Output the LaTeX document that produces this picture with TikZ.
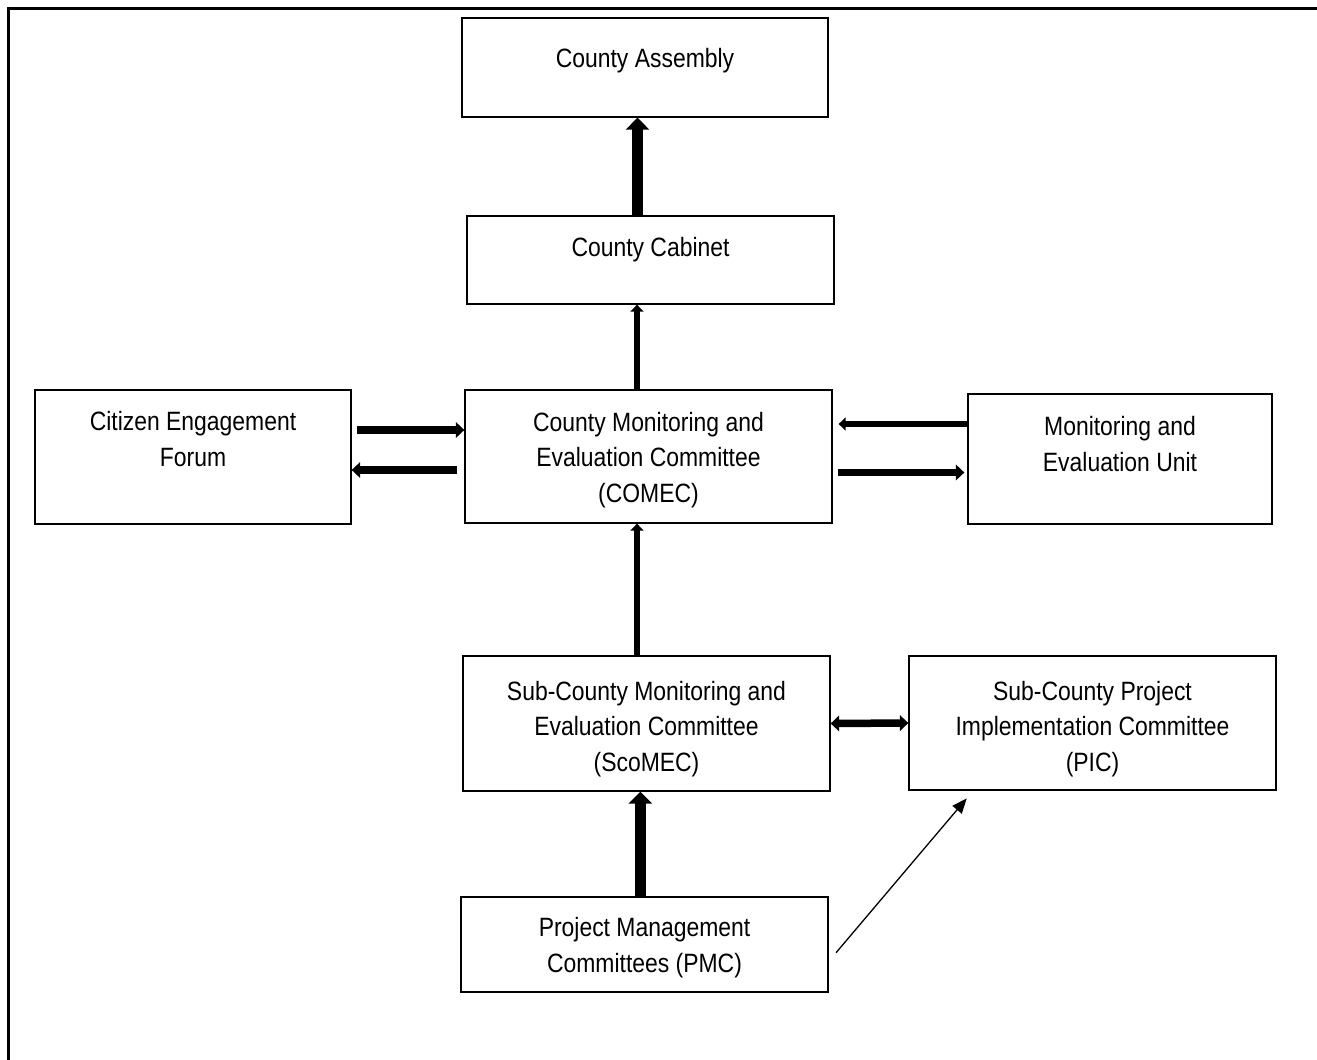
\documentclass[tikz,border=0pt]{standalone}
\usepackage{fontspec}
\setmainfont{Liberation Sans}[FakeStretch=0.865]
\usetikzlibrary{arrows.meta}

\tikzset{
    box/.style={rectangle, draw=black, line width=1.3pt, inner sep=0pt, align=center,
        font=\fontsize{26.5}{35.5}\selectfont},
    tb/.style 2 args={text height=#1pt, text depth=#2pt},
    arrbig/.style={line width=11.5pt, -{Triangle[length=12pt,width=23pt]}},
    arrmid/.style={line width=7.5pt, -{Triangle[length=8.5pt,width=15.5pt]}},
    arrsmall/.style={line width=6.5pt, -{Triangle[length=7pt,width=13pt]}},
    arrslim/.style={line width=1.3pt, -{Triangle[length=15pt,width=12pt]}}
}

\begin{document}
\begin{tikzpicture}[x=1pt, y=-1pt]
    \useasboundingbox (0,0) rectangle (1317,1060);
    \draw[line width=3.3pt] (8.3,1060) -- (8.3,8.3) -- (1317,8.3);

    \node[box, minimum width=366pt, minimum height=99pt, tb={0}{1}] (asm) at (645,67.5) {County Assembly};
    \node[box, minimum width=367pt, minimum height=88pt, tb={0}{8}] (cab) at (650.5,260) {County Cabinet};
    \node[box, minimum width=316pt, minimum height=134pt, tb={18}{0}] (cef) at (193,457) {Citizen Engagement\\Forum};
    \node[box, minimum width=367pt, minimum height=133pt, tb={91}{0}] (comec) at (648.5,456.5) {County Monitoring and\\Evaluation Committee\\(COMEC)};
    \node[box, minimum width=304pt, minimum height=130pt, tb={24}{0}] (meu) at (1120,459) {Monitoring and\\Evaluation Unit};
    \node[box, minimum width=367pt, minimum height=135pt, tb={95}{0}] (sco) at (646.5,723.5) {Sub-County Monitoring and\\Evaluation Committee\\(ScoMEC)};
    \node[box, minimum width=367pt, minimum height=134pt, tb={96}{0}] (pic) at (1092.5,723) {Sub-County Project\\Implementation Committee\\(PIC)};
    \node[box, minimum width=367pt, minimum height=95pt, tb={55}{0}] (pmc) at (644.5,944.5) {Project Management\\Committees (PMC)};

    % upward reporting line
    \draw[arrbig] ([xshift=-13pt]cab.north) -- ([xshift=-13pt]cab.north |- asm.south);
    \draw[arrsmall] ([xshift=-11.5pt]comec.north) -- ([xshift=-11.5pt]comec.north |- cab.south);
    \draw[arrsmall] ([xshift=-9.5pt]sco.north) -- ([xshift=-9.5pt]sco.north |- comec.south);
    \draw[arrbig] ([xshift=-4.2pt]pmc.north) -- ([xshift=-4.2pt]pmc.north |- sco.south);

    % side links
    \draw[arrmid, shorten <=5pt] ([yshift=27pt]cef.east) -- ([yshift=27pt]cef.east -| comec.west);
    \draw[arrmid, shorten <=7pt] ([yshift=-13pt]cef.east -| comec.west) -- ([yshift=-13pt]cef.east);
    \draw[arrsmall, shorten >=6pt] ([yshift=35pt]meu.west) -- ([yshift=35pt]meu.west -| comec.east);
    \draw[arrmid, shorten <=5.5pt, shorten >=3pt] ([yshift=-13.5pt]meu.west -| comec.east) -- ([yshift=-13.5pt]meu.west);
    \draw[arrmid, {Triangle[length=8.5pt,width=15.5pt]}-{Triangle[length=8.5pt,width=15.5pt]}] (sco.east) -- (pic.west);
    \draw[arrslim] ([shift={(7.4,8.2)}]pmc.east) -- ([shift={(58.4,7.7)}]pic.south west);
\end{tikzpicture}
\end{document}
